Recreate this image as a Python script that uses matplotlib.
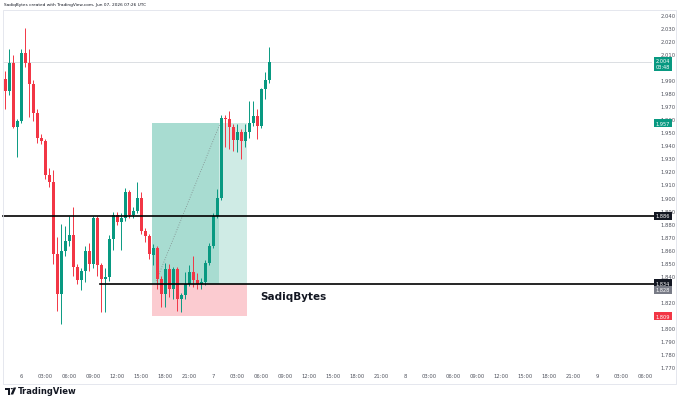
import numpy as np
import matplotlib
matplotlib.use("Agg")
import matplotlib.pyplot as plt
from matplotlib.patches import Rectangle, Circle, Polygon
import matplotlib.transforms as mtransforms

# 30-minute candles, Jun 5 22:00 .. Jun 7 07:00
opens = [1.991, 1.982, 2.003, 1.954, 1.9585, 2.0105, 2.003, 1.987, 1.965, 1.946,
         1.943, 1.917, 1.912, 1.857, 1.826, 1.859, 1.867, 1.871, 1.8465, 1.837,
         1.844, 1.859, 1.849, 1.884, 1.848, 1.8375, 1.839, 1.8685, 1.8865, 1.881,
         1.884, 1.9045, 1.8865, 1.890, 1.8995, 1.8745, 1.8705, 1.856, 1.861, 1.8375,
         1.826, 1.845, 1.830, 1.845, 1.822, 1.825, 1.834, 1.843, 1.837, 1.834,
         1.835, 1.850, 1.863, 1.886, 1.900, 1.961, 1.960, 1.954, 1.944, 1.950,
         1.943, 1.950, 1.957, 1.9625, 1.955, 1.983, 1.990]
highs = [1.997, 2.014, 2.009, 1.960, 2.014, 2.030, 2.014, 1.990, 1.968, 1.949,
         1.945, 1.923, 1.921, 1.870, 1.880, 1.878, 1.886, 1.8925, 1.849, 1.846,
         1.863, 1.865, 1.886, 1.886, 1.850, 1.846, 1.871, 1.889, 1.889, 1.888,
         1.907, 1.906, 1.893, 1.912, 1.9045, 1.877, 1.872, 1.864, 1.863, 1.840,
         1.850, 1.849, 1.847, 1.847, 1.827, 1.843, 1.848, 1.855, 1.842, 1.838,
         1.852, 1.865, 1.888, 1.9065, 1.963, 1.963, 1.9665, 1.956, 1.956, 1.9525,
         1.956, 1.974, 1.974, 1.968, 1.984, 1.996, 2.0152]
lows = [1.968, 1.979, 1.953, 1.931, 1.957, 2.000, 1.962, 1.959, 1.942, 1.941,
        1.914, 1.908, 1.849, 1.813, 1.803, 1.855, 1.863, 1.840, 1.834, 1.829,
        1.835, 1.844, 1.846, 1.840, 1.812, 1.812, 1.836, 1.860, 1.879, 1.860,
        1.882, 1.884, 1.884, 1.888, 1.872, 1.866, 1.853, 1.848, 1.830, 1.816,
        1.816, 1.8235, 1.822, 1.813, 1.812, 1.822, 1.832, 1.831, 1.830, 1.830,
        1.833, 1.848, 1.861, 1.884, 1.898, 1.9385, 1.937, 1.936, 1.935, 1.9295,
        1.9385, 1.946, 1.955, 1.945, 1.953, 1.9755, 1.988]
closes = [1.982, 2.003, 1.954, 1.9585, 2.0105, 2.003, 1.987, 1.965, 1.946, 1.943,
          1.917, 1.912, 1.857, 1.826, 1.859, 1.867, 1.871, 1.8465, 1.837, 1.844,
          1.859, 1.849, 1.884, 1.848, 1.8375, 1.839, 1.8685, 1.8865, 1.881, 1.884,
          1.9045, 1.8865, 1.890, 1.8995, 1.8745, 1.8705, 1.857, 1.861, 1.8375, 1.826,
          1.845, 1.830, 1.845, 1.822, 1.825, 1.834, 1.843, 1.837, 1.834, 1.835,
          1.850, 1.863, 1.886, 1.900, 1.961, 1.960, 1.954, 1.944, 1.950, 1.943,
          1.950, 1.957, 1.9625, 1.955, 1.983, 1.990, 2.004]

time_labels = ["6", "03:00", "06:00", "09:00", "12:00", "15:00", "18:00", "21:00",
               "7", "03:00", "06:00", "09:00", "12:00", "15:00", "18:00", "21:00",
               "8", "03:00", "06:00", "09:00", "12:00", "15:00", "18:00", "21:00",
               "9", "03:00", "06:00"]
first_label_bar = 4      # Jun 6 00:00 is the 5th candle
bars_per_label = 6       # 3 hours of 30m candles

price_ticks = [round(1.77 + 0.01 * i, 3) for i in range(28)]
hidden_ticks = [2.000, 1.830, 1.810]   # covered by price-scale markers

entry, target, stop = 1.834, 1.957, 1.809
level_upper = 1.886
last_price = 2.004
sl_marker = 1.828
countdown = "03:48"

GREEN = "#089981"
RED = "#f23645"

fig = plt.figure(figsize=(6.8, 4.02), dpi=100)
W, H = 680, 402
ax = fig.add_axes([3 / W, 1 - 370 / H, 649 / W, 359 / H])
ax.set_xlim(-0.5, 161.75)
ax.set_ylim(1.7685, 2.0438)

x = np.arange(len(opens))
o, h, l, c = map(np.array, (opens, highs, lows, closes))
up = c >= o
cols = np.where(up, GREEN, RED)

# position tool (long)
box_x0, box_hit, box_x1 = 36.75, 53.5, 60.5
ax.add_patch(Rectangle((box_x0, entry), box_hit - box_x0, target - entry,
                       fc="#a8dcd1", ec="none", zorder=1))
ax.add_patch(Rectangle((box_hit, entry), box_x1 - box_hit, target - entry,
                       fc="#cfebe5", ec="none", zorder=1))
ax.add_patch(Rectangle((box_x0, stop), box_x1 - box_x0, entry - stop,
                       fc="#fbcbd0", ec="none", zorder=1))
ax.plot([37.8, 53.8], [entry + 0.002, target], color="#7f8a8a", lw=0.6,
        ls=(0, (1, 2)), zorder=2)

# last price line
ax.axhline(last_price, color="#d6d9de", lw=0.6, zorder=1)

# candles
ax.vlines(x, l, h, colors=cols, lw=0.7, zorder=3)
body = np.maximum(np.abs(c - o), 0.0006)
ax.bar(x, body, bottom=np.minimum(o, c), width=0.75, color=cols,
       edgecolor="none", zorder=4)

# horizontal levels
ax.plot([-0.5, 163.0], [level_upper, level_upper], color="black", lw=1.2,
        zorder=5, clip_on=False)
ax.plot([23.75, 163.0], [entry, entry], color="black", lw=1.2, zorder=5,
        clip_on=False)

ax.text(63.75, 1.8245, "SadiqBytes", fontsize=7.5, fontweight="bold",
        ha="left", va="center", color="#131722", zorder=6)

# axes styling
for s in ax.spines.values():
    s.set_visible(False)
ax.yaxis.tick_right()
ax.set_yticks(price_ticks)
ax.set_yticklabels(["" if p in hidden_ticks else f"{p:.3f}" for p in price_ticks])
ax.tick_params(axis="y", length=0, pad=6, labelsize=3.8, labelcolor="#50535e")
ax.set_xticks([first_label_bar + bars_per_label * i for i in range(len(time_labels))])
ax.set_xticklabels(time_labels)
ax.tick_params(axis="x", length=0, pad=3, labelsize=3.8, labelcolor="#50535e")

# price scale markers
trans = mtransforms.blended_transform_factory(ax.transAxes, ax.transData)
def marker(y, txt, fc, dy=0.0):
    ax.text(1.006, y + dy, txt, transform=trans, fontsize=3.6, color="white",
            ha="left", va="center", zorder=20, clip_on=False,
            bbox=dict(boxstyle="square,pad=0.35", fc=fc, ec="none"))

marker(last_price, f"{last_price:.3f}\n{countdown}", GREEN, dy=-0.0015)
marker(target, f"{target:.3f}", GREEN)
marker(level_upper, f"{level_upper:.3f}", "#131722")
marker(entry, f"{entry:.3f}", "#131722")
marker(sl_marker, f"{sl_marker:.3f}", "#787b86", dy=0.0012)
marker(stop, f"{stop:.3f}", RED)

# chart frame
fig.add_artist(Rectangle((3 / W, 1 - 385 / H), 673 / W, 374 / H,
                         transform=fig.transFigure, fill=False,
                         ec="#e0e3eb", lw=0.6))

fig.text(4 / W, 1 - 5 / H, "SadiqBytes created with TradingView.com, Jun 07, 2026 07:26 UTC",
         fontsize=3.1, color="#131722", ha="left", va="center")

# TradingView logo mark, drawn in figure pixels
def px(xp, yp):
    return (xp / W, 1 - yp / H)
logo_kw = dict(transform=fig.transFigure, fc="#131722", ec="none")
fig.add_artist(Polygon([px(5, 388.5), px(10, 388.5), px(10, 395.5), px(7.8, 395.5),
                        px(7.8, 390.6), px(5, 390.6)], closed=True, **logo_kw))
fig.add_artist(Circle(px(11.8, 389.6), 1.1 / W, **logo_kw))
fig.add_artist(Polygon([px(10.6, 395.5), px(13.2, 395.5), px(16.2, 388.5),
                        px(13.6, 388.5)], closed=True, **logo_kw))
fig.text(17.5 / W, 1 - 392 / H, "TradingView", fontsize=6, fontweight="semibold",
         color="#131722", ha="left", va="center")

fig.savefig("out.png", dpi=100)
